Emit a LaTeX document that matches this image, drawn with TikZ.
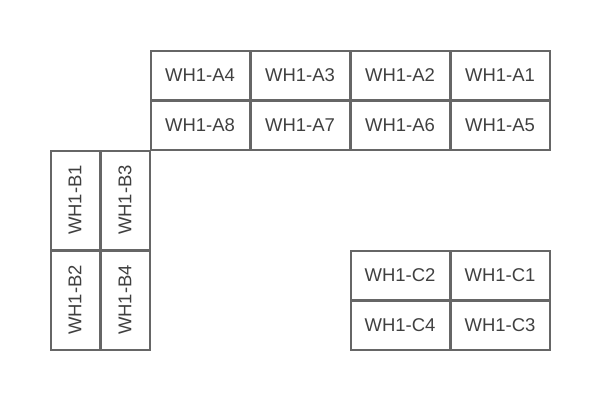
\documentclass[tikz,border=0pt]{standalone}
\usepackage{fontspec}
\setmainfont{Liberation Sans}
\definecolor{edge}{HTML}{666666}
\definecolor{txt}{HTML}{404040}
\begin{document}
\begin{tikzpicture}[x=1pt,y=-1pt,
  cell/.style={draw=edge,line width=2pt,fill=white,inner sep=0pt,
    text=txt,font=\fontsize{18.5}{20}\selectfont},
  wide/.style={cell,minimum width=99pt,minimum height=49pt},
  tall/.style={cell,minimum width=49pt,minimum height=99pt}]
\useasboundingbox (0,0) rectangle (600,400);
% A block
\node[wide] (a4) at (200,75) {WH1-A4};
\node[wide] (a3) at (300,75) {WH1-A3};
\node[wide] (a2) at (400,75) {WH1-A2};
\node[wide] (a1) at (500,75) {WH1-A1};
\node[wide] (a8) at (200,125) {WH1-A8};
\node[wide] (a7) at (300,125) {WH1-A7};
\node[wide] (a6) at (400,125) {WH1-A6};
\node[wide] (a5) at (500,125) {WH1-A5};
% B block
\node[tall] (b1) at (75,200) {\rotatebox{90}{WH1-B1}};
\node[tall] (b3) at (125,200) {\rotatebox{90}{WH1-B3}};
\node[tall] (b2) at (75,300) {\rotatebox{90}{WH1-B2}};
\node[tall] (b4) at (125,300) {\rotatebox{90}{WH1-B4}};
% C block
\node[wide] (c2) at (400,275) {WH1-C2};
\node[wide] (c1) at (500,275) {WH1-C1};
\node[wide] (c4) at (400,325) {WH1-C4};
\node[wide] (c3) at (500,325) {WH1-C3};
\end{tikzpicture}
\end{document}
